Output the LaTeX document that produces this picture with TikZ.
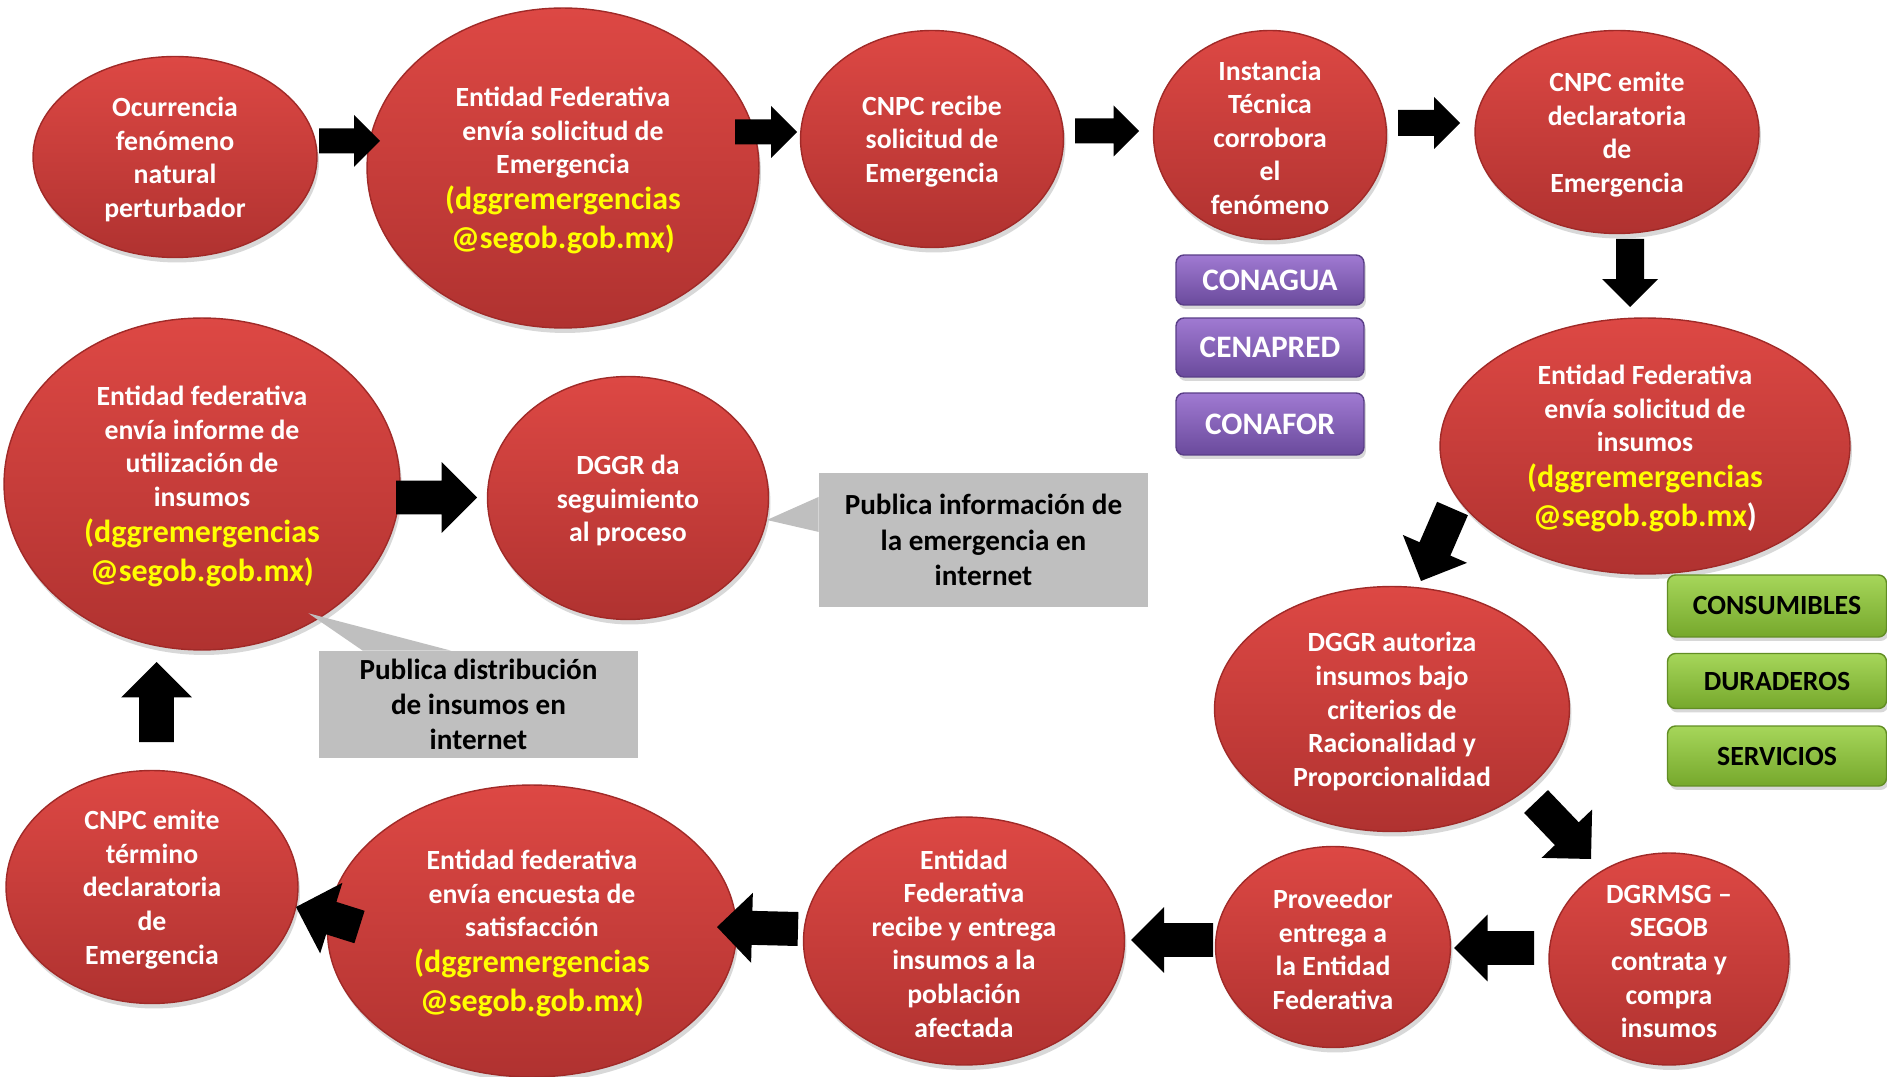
\documentclass[tikz,border=0pt]{standalone}
\usepackage{fontspec}
\setmainfont{Carlito}
\usetikzlibrary{calc,shadows,shapes.geometric}
\definecolor{redtop}{RGB}{221,72,68}
\definecolor{redbot}{RGB}{176,50,48}
\definecolor{rededge}{RGB}{160,42,40}
\definecolor{yel}{RGB}{255,255,0}
\definecolor{purtop}{RGB}{160,122,210}
\definecolor{purbot}{RGB}{106,74,156}
\definecolor{puredge}{RGB}{90,62,136}
\definecolor{grntop}{RGB}{166,214,90}
\definecolor{grnbot}{RGB}{118,168,44}
\definecolor{grnedge}{RGB}{98,142,36}
\definecolor{callgray}{RGB}{191,191,191}
\newcommand{\yl}[1]{{\color{yel}\fontsize{18.2}{21.8}\selectfont #1}}
\newcommand{\blockarr}[4]{%
  \coordinate (ba-b) at ($(#2)!#4!(#1)$);
  \fill[arrowfill] ($(#1)!#3!90:(#2)$) -- ($(ba-b)!#3!-90:(#1)$) -- ($(ba-b)!#4!-90:(#1)$) -- (#2) -- ($(ba-b)!#4!90:(#1)$) -- ($(ba-b)!#3!90:(#1)$) -- ($(#1)!#3!-90:(#2)$) -- cycle;}
\tikzset{
  ell/.style={ellipse, inner sep=0pt, draw=rededge, line width=0.8pt,
    top color=redtop, bottom color=redbot,
    drop shadow={shadow xshift=0.04cm, shadow yshift=-0.1cm, opacity=0.3}},
  elltext/.style={text=white, align=center, inner sep=0pt, yshift=-0.05cm,
    font=\bfseries\fontsize{15.8}{19.1}\selectfont},
  purp/.style={rectangle, rounded corners=0.16cm, draw=puredge, line width=0.8pt,
    top color=purtop, bottom color=purbot, text=white, minimum width=3.76cm,
    font=\bfseries\fontsize{17.8}{21}\selectfont,
    drop shadow={shadow xshift=0.04cm, shadow yshift=-0.08cm, opacity=0.3}},
  grn/.style={rectangle, rounded corners=0.16cm, draw=grnedge, line width=0.8pt,
    top color=grntop, bottom color=grnbot, text=black, minimum width=4.38cm,
    font=\bfseries\fontsize{15.8}{19}\selectfont,
    drop shadow={shadow xshift=0.04cm, shadow yshift=-0.08cm, opacity=0.3}},
  callout/.style={rectangle, fill=callgray, text=black, align=center, inner sep=0pt,
    font=\bfseries\fontsize{16.6}{20.1}\selectfont},
  arrowfill/.style={fill=black}
}
\begin{document}
\begin{tikzpicture}[x=0.02cm, y=-0.02cm]
\useasboundingbox (0,0) rectangle (1887,1077);
\fill[white] (0,0) rectangle (1887,1077);

% ellipses
\node[ell, minimum width=5.68cm, minimum height=4.02cm,
  label={[elltext]center:{Ocurrencia\\fenómeno\\natural\\perturbador}}] (e1) at (175,157) {};
\node[ell, minimum width=7.84cm, minimum height=6.40cm,
  label={[elltext]center:{Entidad Federativa\\envía solicitud de\\Emergencia\\[1.5pt]\yl{(dggremergencias}\\[3pt]\yl{@segob.gob.mx)}}}] (e2) at (563,168) {};
\node[ell, minimum width=5.26cm, minimum height=4.34cm,
  label={[elltext]center:{CNPC recibe\\solicitud de\\Emergencia}}] (e3) at (932,139) {};
\node[ell, minimum width=4.66cm, minimum height=4.18cm,
  label={[elltext]center:{Instancia\\Técnica\\corrobora\\el\\fenómeno}}] (e4) at (1270,135) {};
\node[ell, minimum width=5.68cm, minimum height=4.06cm,
  label={[elltext]center:{CNPC emite\\declaratoria\\de\\Emergencia}}] (e5) at (1617,132) {};
\node[ell, minimum width=8.20cm, minimum height=5.12cm,
  label={[elltext]center:{Entidad Federativa\\envía solicitud de\\insumos\\[1.5pt]\yl{(dggremergencias}\\[3pt]\yl{@segob.gob.mx}{\fontsize{18.2}{21.8}\selectfont )}}}] (e6) at (1645,446) {};
\node[ell, minimum width=7.10cm, minimum height=4.90cm,
  label={[elltext]center:{DGGR autoriza\\insumos bajo\\criterios de\\Racionalidad y\\Proporcionalidad}}] (e7) at (1392,709) {};
\node[ell, minimum width=7.92cm, minimum height=6.64cm,
  label={[elltext]center:{Entidad federativa\\envía informe de\\utilización de\\insumos\\[1.5pt]\yl{(dggremergencias}\\[3pt]\yl{@segob.gob.mx)}}}] (e8) at (202,484) {};
\node[ell, minimum width=5.62cm, minimum height=4.86cm,
  label={[elltext]center:{DGGR da\\seguimiento\\al proceso}}] (e9) at (628,498) {};
\node[ell, minimum width=5.84cm, minimum height=4.66cm,
  label={[elltext]center:{CNPC emite\\término\\declaratoria\\de\\Emergencia}}] (e10) at (152,887) {};
\node[ell, minimum width=8.18cm, minimum height=5.84cm,
  label={[elltext]center:{Entidad federativa\\envía encuesta de\\satisfacción\\[1.5pt]\yl{(dggremergencias}\\[3pt]\yl{@segob.gob.mx)}}}] (e11) at (532,931) {};
\node[ell, minimum width=6.42cm, minimum height=4.96cm,
  label={[elltext]center:{Entidad\\Federativa\\recibe y entrega\\insumos a la\\población\\afectada}}] (e12) at (964,941) {};
\node[ell, minimum width=4.70cm, minimum height=4.02cm,
  label={[elltext]center:{Proveedor\\entrega a\\la Entidad\\Federativa}}] (e13) at (1333,947) {};
\node[ell, minimum width=4.80cm, minimum height=4.24cm,
  label={[elltext]center:{DGRMSG –\\SEGOB\\contrata y\\compra\\insumos}}] (e14) at (1669,959) {};

% purple boxes
\node[purp, minimum height=1.00cm] (conagua) at (1270,280) {CONAGUA};
\node[purp, minimum height=1.18cm] (cenapred) at (1270,347.5) {CENAPRED};
\node[purp, minimum height=1.24cm] (conafor) at (1270,424) {CONAFOR};

% green boxes
\node[grn, minimum height=1.24cm] (consum) at (1777,606) {CONSUMIBLES};
\node[grn, minimum height=1.10cm] (durad) at (1777,681) {DURADEROS};
\node[grn, minimum height=1.20cm] (servic) at (1777,756) {SERVICIOS};

% callouts
\node[callout, minimum width=6.58cm, minimum height=2.68cm] (c1) at (983.5,540)
  {Publica información de\\la emergencia en\\internet};
\fill[callgray] (e9.-9) -- ($(c1.north west)!0.18!(c1.south west)$) -- ($(c1.north west)!0.44!(c1.south west)$) -- cycle;
\node[callout, minimum width=6.38cm, minimum height=2.14cm] (c2) at (478.5,704.5)
  {Publica distribución\\de insumos en\\internet};
\fill[callgray] ($(e8.-50)+(-8,-7)$) -- ($(c2.north west)!0.138!(c2.north east)$) -- ($(c2.north west)!0.414!(c2.north east)$) -- cycle;

% arrow end points
\coordinate (a12s) at (319,141);   \coordinate (a12t) at (380,141);
\coordinate (a23s) at (735,132);   \coordinate (a23t) at (797,132);
\coordinate (a34s) at (1075,131);  \coordinate (a34t) at (1139,131);
\coordinate (a45s) at (1398,123);  \coordinate (a45t) at (1460,123);
\coordinate (a56s) at (1630,239);  \coordinate (a56t) at (1630,307);
\coordinate (a67s) at (1452.5,508.5); \coordinate (a67t) at (1421,581);
\coordinate (a714s) at (1536,801.5);  \coordinate (a714t) at (1591,859);
\coordinate (a1413s) at (1534,948); \coordinate (a1413t) at (1454,948);
\coordinate (a1312s) at (1213,940); \coordinate (a1312t) at (1131,940);
\coordinate (a1211s) at (798,929);  \coordinate (a1211t) at (717,927);
\coordinate (a1110s) at (359.5,927); \coordinate (a1110t) at (296,907);
\coordinate (a108s) at (156.5,742); \coordinate (a108t) at (156.5,662);
\coordinate (a89s) at (396,497.5);  \coordinate (a89t) at (477,497.5);

\blockarr{a12s}{a12t}{0.25cm}{0.52cm}
\blockarr{a23s}{a23t}{0.25cm}{0.52cm}
\blockarr{a34s}{a34t}{0.25cm}{0.51cm}
\blockarr{a45s}{a45t}{0.26cm}{0.52cm}
\blockarr{a56s}{a56t}{0.28cm}{0.56cm}
\blockarr{a67s}{a67t}{0.336cm}{0.70cm}
\blockarr{a714s}{a714t}{0.33cm}{0.70cm}
\blockarr{a1413s}{a1413t}{0.34cm}{0.67cm}
\blockarr{a1312s}{a1312t}{0.34cm}{0.66cm}
\blockarr{a1211s}{a1211t}{0.34cm}{0.70cm}
\blockarr{a1110s}{a1110t}{0.34cm}{0.74cm}
\blockarr{a108s}{a108t}{0.35cm}{0.71cm}
\blockarr{a89s}{a89t}{0.34cm}{0.71cm}
\end{tikzpicture}
\end{document}
